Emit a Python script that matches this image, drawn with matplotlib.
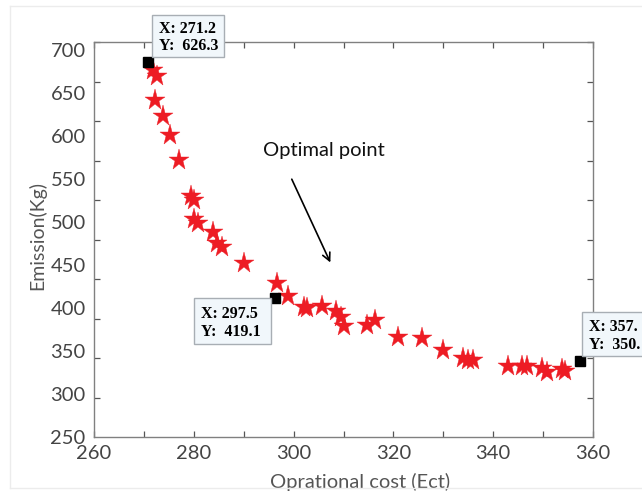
import matplotlib
matplotlib.use('Agg')
import matplotlib.pyplot as plt
import numpy as np
from matplotlib.patches import Rectangle
from matplotlib.lines import Line2D
from matplotlib.ticker import FixedLocator, MultipleLocator

# ---- data ----
cost = [271.8, 272.6, 272.2, 273.9, 275.3, 277.1, 279.4, 280.1, 280.0, 280.9,
        283.8, 284.6, 285.6, 290.0, 296.7, 298.9, 302.1, 302.7, 305.7, 308.4,
        309.5, 310.1, 314.7, 316.3, 321.0, 325.8, 330.0, 334.0, 335.0, 336.0,
        343.0, 345.7, 346.7, 349.7, 350.7, 353.7, 354.4]
emission = [676.8, 669.8, 641.9, 623.3, 601.7, 572.1, 530.2, 525.6, 503.5, 498.8,
            488.4, 475.0, 470.9, 452.3, 428.5, 414.5, 401.7, 400.0, 402.3, 396.5,
            389.5, 379.1, 380.2, 386.0, 366.3, 364.8, 351.7, 341.5, 339.5, 339.0,
            332.0, 332.6, 332.0, 329.9, 325.9, 328.5, 327.3]
tip_cost = [270.8, 296.3, 357.3]
tip_emission = [686.0, 412.0, 338.4]
tip_x_text = ["X: 271.2", "X: 297.5", "X: 357."]
tip_y_text = ["Y:  626.3", "Y:  419.1", "Y:  350."]
x_ticks = [260, 280, 300, 320, 340, 360]
y_ticks = [250, 300, 350, 400, 450, 500, 550, 600, 650, 700]

W, H = 642, 497
fig = plt.figure(figsize=(W / 100, H / 100), dpi=100)
fig.patch.set_facecolor('white')

# faint screenshot frame
for (x0, y0, x1, y1) in [(10, 6, 642, 6), (10, 488, 642, 488), (10, 6, 10, 488)]:
    fig.add_artist(Line2D([x0 / W, x1 / W], [1 - y0 / H, 1 - y1 / H],
                          color='#ececec', lw=1.0, transform=fig.transFigure))

ax = fig.add_axes([94 / W, 1 - 437 / H, (593 - 94) / W, (437 - 42) / H])
ax.plot(cost, emission, ls='none', marker='*', ms=15.5, color='#ED1C24',
        mec='#ED1C24', mew=0.3, zorder=3)
ax.plot(tip_cost, tip_emission, ls='none', marker='s', ms=6.5, color='black',
        zorder=4, clip_on=False)

ymax = 709.3
ax.set_xlim(260, 360)
ax.set_ylim(250, ymax)

gray = '#808080'
for s in ax.spines.values():
    s.set_color(gray)
    s.set_linewidth(1.0)

ax.set_xticks(x_ticks)
ax.xaxis.set_minor_locator(MultipleLocator(10))
ax.set_yticks(y_ticks)
ax.yaxis.set_minor_locator(FixedLocator(np.linspace(250, ymax, 11)))
ax.tick_params(axis='both', which='both', direction='in', top=True, right=True,
               color='#555555', width=0.9)
ax.tick_params(axis='x', which='both', length=4.5)
ax.tick_params(axis='y', which='major', length=0, pad=6)
ax.tick_params(axis='y', which='minor', length=4.5)
ax.tick_params(axis='both', which='major', labelsize=14.5, labelcolor='#444444')
ax.tick_params(axis='x', which='major', pad=6)
for lab in ax.get_xticklabels() + ax.get_yticklabels():
    lab.set_family('Lato')

ax.set_xlabel('Oprational cost (Ect)', fontsize=14.5, family='Lato', color='#555555')
ax.set_ylabel('Emission(Kg)', fontsize=14, family='Lato', color='#555555')
ax.xaxis.set_label_coords((360 - 94) / (593 - 94), -(473 - 437) / (437 - 42))
ax.yaxis.set_label_coords(-(94 - 46) / (593 - 94), (437 - 236) / (437 - 42))

# annotation
ax.annotate('', xy=(307.6, 450.0), xytext=(299.4, 552.7),
            arrowprops=dict(arrowstyle='->', color='black', lw=1.2,
                            mutation_scale=14))
ax.text(306.1, 583.7, 'Optimal point', fontsize=14.5, family='Lato',
        ha='center', va='center', color='#111111')

# data tips (positions in figure pixels)
boxes = [(152, 15, 224, 57), (194, 298, 271, 344), (582, 312, 660, 356)]
for (bx0, by0, bx1, by1), tx, ty in zip(boxes, tip_x_text, tip_y_text):
    fig.add_artist(Rectangle((bx0 / W, 1 - by1 / H), (bx1 - bx0) / W, (by1 - by0) / H,
                             transform=fig.transFigure, facecolor='#F1F7FB',
                             edgecolor='#A8AEB4', lw=1.0, zorder=10))
    h = by1 - by0
    fig.text((bx0 + 7) / W, 1 - (by0 + h * 0.34) / H, tx, family='Liberation Serif',
             weight='bold', fontsize=11.5, va='center', ha='left', zorder=11)
    fig.text((bx0 + 7) / W, 1 - (by0 + h * 0.74) / H, ty, family='Liberation Serif',
             weight='bold', fontsize=11.5, va='center', ha='left', zorder=11)

fig.savefig('out.png', dpi=100)
